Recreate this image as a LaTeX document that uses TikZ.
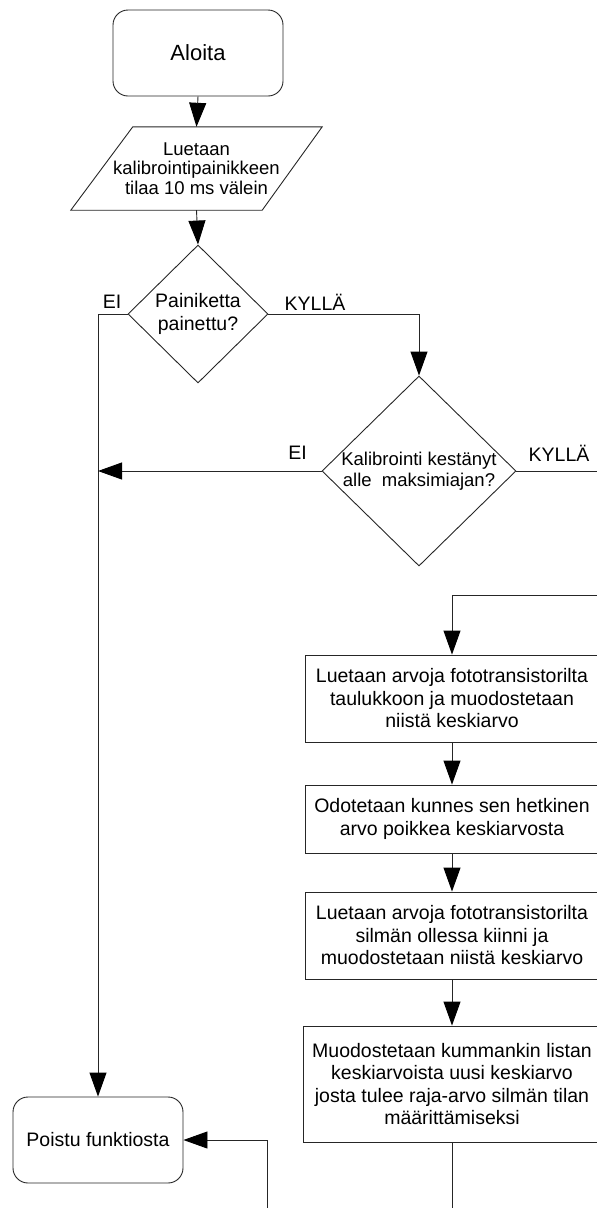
\documentclass[tikz,border=0pt]{standalone}
\usepackage{fontspec}
\setmainfont{Liberation Sans}
\usetikzlibrary{shapes.geometric,arrows.meta,calc}
\begin{document}
\begin{tikzpicture}[x=1pt,y=-1pt,
  every node/.style={font=\fontsize{19.5}{22.5}\selectfont, text=black, align=center, inner sep=0pt},
  lin/.style={draw=black!85, line width=0.9pt},
  arr/.style={lin, -{Triangle[length=24pt,width=17pt,color=black]}},
  term/.style={lin, rounded corners=15pt, minimum width=170pt, minimum height=86pt},
  procbox/.style={lin, minimum width=294pt},
  decision/.style={lin, diamond, inner sep=-6pt},
  lbl/.style={font=\fontsize{19.5}{22.5}\selectfont}
]
\useasboundingbox (0,0) rectangle (597,1208);
% start
\node[term, font=\fontsize{22}{26}\selectfont] (aloita) at (198,53) {Aloita};
% input parallelogram (outline drawn from the node's anchors)
\node[minimum width=251pt, minimum height=83pt, font=\fontsize{18.5}{19.5}\selectfont] (par) at (196.5,168.5) {Luetaan\\kalibrointipainikkeen\\tilaa 10 ms välein};
\draw[lin] ([xshift=62pt]par.north west) -- (par.north east) -- ([xshift=-60pt]par.south east) -- (par.south west) -- cycle;
% decisions
\node[decision, minimum width=140pt, minimum height=138pt] (d1) at (198,314) {Painiketta\\painettu?};
\node[decision, minimum width=194pt, minimum height=190pt, font=\fontsize{18.5}{21}\selectfont] (d2) at (419,471) {Kalibrointi kestänyt\\alle\ \ maksimiajan?};
% process boxes
\node[procbox, minimum height=87pt] (b1) at (452,698.5) {Luetaan arvoja fototransistorilta\\taulukkoon ja muodostetaan\\niistä keskiarvo};
\node[procbox, minimum height=68pt] (b2) at (452,819) {Odotetaan kunnes sen hetkinen\\arvo poikkea keskiarvosta};
\node[procbox, minimum height=87pt] (b3) at (452,935.5) {Luetaan arvoja fototransistorilta\\silmän ollessa kiinni ja\\muodostetaan niistä keskiarvo};
\node[procbox, minimum width=298pt, minimum height=116pt] (b4) at (452,1084) {Muodostetaan kummankin listan\\keskiarvoista uusi keskiarvo\\josta tulee raja-arvo silmän tilan\\määrittämiseksi};
% end
\node[term] (poistu) at (98,1140) {Poistu funktiosta};
% free ends
\coordinate (e1) at (602,471);
\coordinate (e2) at (602,595);
\coordinate (e3) at (452,1212);
\coordinate (e4) at (267,1212);
% connectors
\draw[arr] (aloita.south) -- (par.north);
\draw[arr] (par.south) -- (d1.north);
\draw[arr] (d1.west) -| (poistu.north);
\draw[arr] (d1.east) -| (d2.north);
\draw[arr] (d2.west) -- (d2.west -| poistu.north);
\draw[lin] (d2.east) -- (e1);
\draw[arr] (e2) -| (b1.north);
\draw[arr] (b1.south) -- (b2.north);
\draw[arr] (b2.south) -- (b3.north);
\draw[arr] (b3.south) -- (b4.north);
\draw[lin] (b4.south) -- (e3);
\draw[arr] (e4) |- (poistu.east);
% labels
\node[lbl] (l1) at (112,302) {EI};
\node[lbl] (l2) at (315,302) {KYLLÄ};
\node[lbl] (l3) at (297.5,453) {EI};
\node[lbl] (l4) at (559,453) {KYLLÄ};
\end{tikzpicture}
\end{document}
